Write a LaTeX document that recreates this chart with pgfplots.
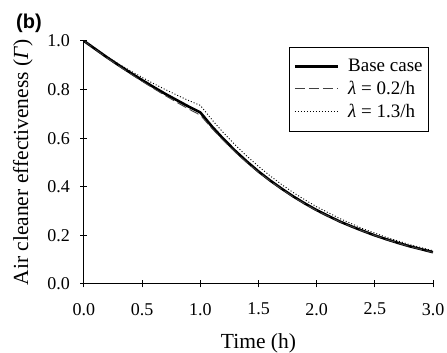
\documentclass[border=0pt]{standalone}
\usepackage{pgfplots}
\pgfplotsset{compat=1.18}
\usepackage{fontspec}
\setmainfont{Liberation Serif}
\newfontfamily\arialfont{Liberation Sans}
\begin{document}
\begin{tikzpicture}
\useasboundingbox (-84pt,-69pt) rectangle (363pt,284pt);
\begin{axis}[
  at={(0pt,0pt)}, anchor=south west,
  scale only axis, width=349pt, height=243pt,
  xmin=0, xmax=3, ymin=0, ymax=1,
  axis lines*=left,
  axis line style={line width=1pt},
  xtick={0,0.5,...,3}, ytick={0,0.2,...,1},
  tick align=center, major tick length=7pt,
  tick style={line width=1pt, black},
  /pgf/number format/assume math mode=true,
  /pgf/number format/fixed, /pgf/number format/fixed zerofill, /pgf/number format/precision=1,
  tick label style={font=\fontsize{18}{20}\selectfont},
  xticklabel style={yshift=-12pt},
  yticklabel style={xshift=-7pt},
  label style={font=\fontsize{21.5}{24}\selectfont},
  xlabel={Time (h)},
  ylabel={Air cleaner effectiveness (\textit{Γ})},
  xlabel style={yshift=-11pt},
  ylabel style={yshift=8pt},
  legend cell align=left,
  legend style={at={(0.9885,0.9753)}, anchor=north east, draw=black, line width=0.8pt,
    font=\fontsize{19}{21}\selectfont, row sep=4pt, inner xsep=4pt, inner ysep=10pt,
    /tikz/every odd column/.style={column sep=7pt}},
  legend image code/.code={\draw[#1] (0pt,0pt) -- (43pt,0pt);},
]
\addplot[black, line width=2.6pt, no marks] coordinates {
(0,1.000) (0.1,0.966) (0.2,0.932) (0.3,0.900) (0.4,0.869) (0.5,0.839) (0.6,0.810) (0.7,0.782) (0.8,0.756) (0.9,0.730) (1.0,0.706)
(1.1,0.648) (1.2,0.596) (1.3,0.548) (1.4,0.504) (1.5,0.463) (1.6,0.426) (1.7,0.392) (1.8,0.360) (1.9,0.331) (2.0,0.304)
(2.1,0.280) (2.2,0.257) (2.3,0.237) (2.4,0.218) (2.5,0.200) (2.6,0.184) (2.7,0.169) (2.8,0.155) (2.9,0.143) (3.0,0.131)};
\addlegendentry{Base case}
\addplot[black!75, line width=0.9pt, dash pattern=on 10pt off 4pt, no marks] coordinates {
(0,1.000) (0.1,0.965) (0.2,0.930) (0.3,0.897) (0.4,0.865) (0.5,0.834) (0.6,0.804) (0.7,0.775) (0.8,0.747) (0.9,0.720) (1.0,0.695)
(1.1,0.640) (1.2,0.590) (1.3,0.543) (1.4,0.500) (1.5,0.460) (1.6,0.424) (1.7,0.390) (1.8,0.358) (1.9,0.329) (2.0,0.302)
(2.2,0.256) (2.4,0.217) (2.6,0.183) (2.8,0.154) (3.0,0.130)};
\addlegendentry{\textit{λ} = 0.2/h}
\addplot[black, line width=0.9pt, dash pattern=on 1pt off 2pt, no marks] coordinates {
(0,1.000) (0.1,0.967) (0.2,0.935) (0.3,0.905) (0.4,0.877) (0.5,0.850) (0.6,0.824) (0.7,0.800) (0.8,0.777) (0.9,0.755) (1.0,0.735)
(1.1,0.676) (1.2,0.622) (1.3,0.572) (1.4,0.526) (1.5,0.484) (1.6,0.445) (1.7,0.409) (1.8,0.376) (1.9,0.346) (2.0,0.318)
(2.2,0.269) (2.4,0.227) (2.6,0.192) (2.8,0.162) (3.0,0.137)};
\addlegendentry{\textit{λ} = 1.3/h}
\end{axis}
\node[font=\arialfont\bfseries\fontsize{20}{22}\selectfont, inner sep=0pt] at (-55pt,261pt) {(b)};
\end{tikzpicture}
\end{document}
